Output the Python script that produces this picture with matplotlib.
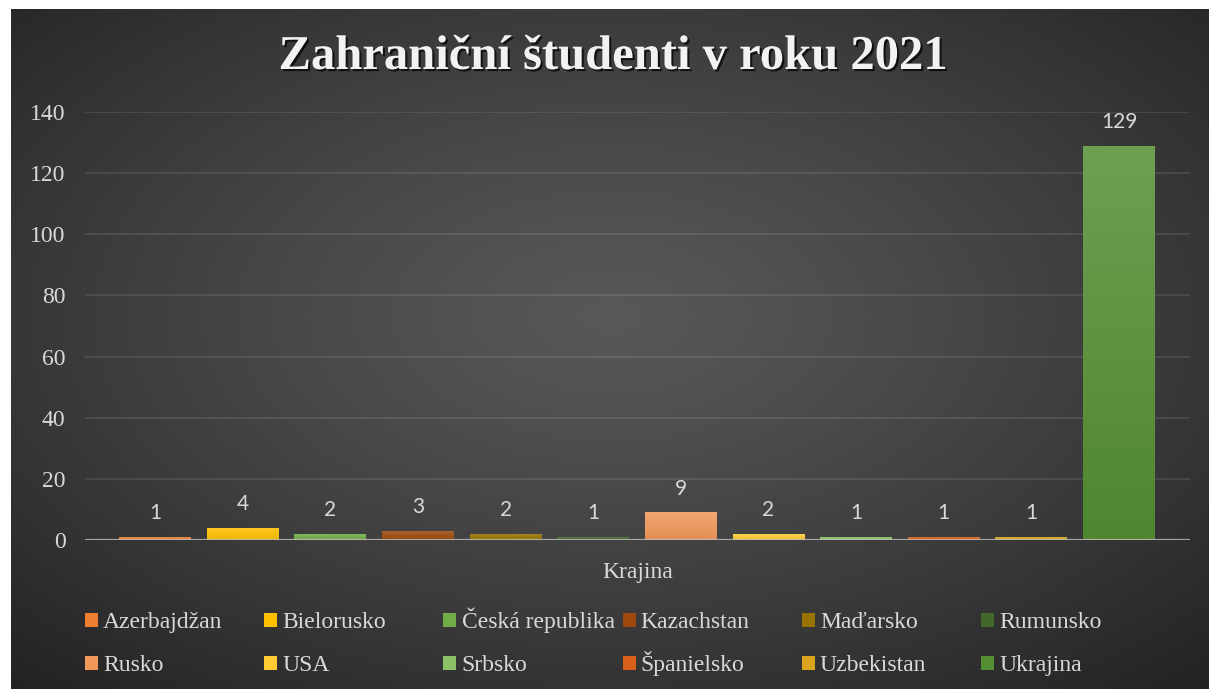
import numpy as np
import matplotlib
matplotlib.use('Agg')
import matplotlib.pyplot as plt
from matplotlib import patheffects as pe
from matplotlib.colors import to_rgb
from matplotlib.patches import Patch
from matplotlib.font_manager import FontProperties

# ---------------- data ----------------
title = "Zahraniční študenti v roku 2021"
category = "Krajina"
countries = ["Azerbajdžan", "Bielorusko", "Česká republika", "Kazachstan",
             "Maďarsko", "Rumunsko", "Rusko", "USA", "Srbsko",
             "Španielsko", "Uzbekistan", "Ukrajina"]
students = [1, 4, 2, 3, 2, 1, 9, 2, 1, 1, 1, 129]
colors = ["#ED7D31", "#FFC000", "#70AD47", "#9E480E", "#997300", "#43682B",
          "#F1975A", "#FFCD33", "#8CC168", "#D9601A", "#D9A520", "#548F33"]
yticks = [0, 20, 40, 60, 80, 100, 120, 140]

W_PX, H_PX = 1209, 689
SERIF = ['Liberation Serif', 'DejaVu Serif']
TXT = '#d9d9d9'
serif17 = FontProperties(family=SERIF, size=17)

fig = plt.figure(figsize=(W_PX / 100, H_PX / 100), dpi=100)
fig.patch.set_facecolor('white')

# ---------------- background radial gradient ----------------
bg = fig.add_axes([11 / W_PX, 0, 1198 / W_PX, 680 / H_PX], zorder=-10)
Hb, Wb = 340, 600
yy, xx = np.mgrid[0:Hb, 0:Wb]
cx, cy = 0.50 * Wb, 0.45 * Hb
r = np.sqrt(((xx - cx) / Wb) ** 2 + ((yy - cy) / Hb) ** 2)
r = r / r.max()
v = 0.345 - (0.345 - 0.135) * r ** 1.2
bg.imshow(np.dstack([v, v, v]), aspect='auto', interpolation='bilinear',
          extent=(0, 1, 0, 1))
bg.axis('off')

# ---------------- main axes ----------------
ax = fig.add_axes([85 / W_PX, (H_PX - 540) / H_PX, 1105 / W_PX, 428 / H_PX])
ax.set_facecolor('none')
x = np.arange(len(countries))
bars = ax.bar(x, students, width=0.82, color=colors, zorder=2)


def mix(c, other, t):
    c = np.array(to_rgb(c)); o = np.array(to_rgb(other))
    return c * (1 - t) + o * t


for b, c in zip(bars, colors):
    top = mix(c, 'white', 0.15)
    bot = mix(c, 'black', 0.06)
    grad = np.linspace(0, 1, 64)[:, None, None]
    img = top[None, None, :] * (1 - grad) + bot[None, None, :] * grad
    x0, w, h = b.get_x(), b.get_width(), b.get_height()
    im = ax.imshow(img, extent=(x0, x0 + w, 0, h), aspect='auto',
                   interpolation='bilinear', zorder=2.1)
    im.set_clip_path(b)

for b, val in zip(bars, students):
    ax.annotate(str(val), (b.get_x() + b.get_width() / 2, b.get_height()),
                xytext=(0, 10), textcoords='offset points', ha='center',
                va='bottom', fontsize=15, color=TXT, family=['Lato', 'DejaVu Sans'])

ax.set_xlim(-0.8, 11.81)
ax.set_ylim(0, 140)
ax.set_yticks(yticks)
ax.yaxis.grid(True, color='white', alpha=0.12, lw=1.1)
ax.set_axisbelow(True)
ax.axhline(0, color='#bfbfbf', lw=2.3, alpha=0.8, zorder=3)
for s in ax.spines.values():
    s.set_visible(False)
ax.set_xticks([])
ax.tick_params(axis='y', length=0, pad=14, labelcolor=TXT)
for lab in ax.get_yticklabels():
    lab.set_fontproperties(serif17)
ax.set_xlabel(category, color=TXT, fontproperties=serif17, labelpad=16)

# ---------------- title ----------------
fig.text(613 / W_PX, 1 - 57 / H_PX, title, ha='center', va='center',
         fontsize=35, fontweight='bold', family=SERIF, color='#f2f2f2',
         path_effects=[pe.withSimplePatchShadow(offset=(1.5, -1.5),
                                                shadow_rgbFace='black', alpha=0.7)])

# ---------------- legend (6 equal-width columns, 2 rows) ----------------
ncol = 6
col_x0, col_w = 85, 179.2
row_bottoms = [633, 676]
for i, (name, c) in enumerate(zip(countries, colors)):
    row, col = divmod(i, ncol)
    fig.legend([Patch(facecolor=c, edgecolor='none')], [name], loc='lower left',
               bbox_to_anchor=((col_x0 + col_w * col) / W_PX,
                               (H_PX - row_bottoms[row]) / H_PX),
               frameon=False, borderpad=0, borderaxespad=0,
               handlelength=0.55, handleheight=0.55, handletextpad=0.22,
               labelcolor=TXT, prop=serif17)

fig.savefig('out.png', dpi=100)
